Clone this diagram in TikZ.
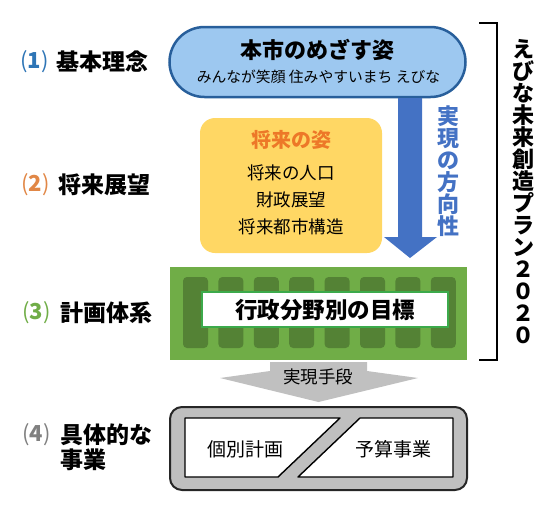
\documentclass[tikz,border=0pt]{standalone}
\usepackage{fontspec}
\setmainfont{Noto Sans CJK JP}
\definecolor{pillfill}{RGB}{157,200,240}
\definecolor{pilldraw}{RGB}{40,95,155}
\definecolor{bluearr}{RGB}{68,114,196}
\definecolor{yellowbox}{RGB}{255,215,100}
\definecolor{orangetxt}{RGB}{237,120,40}
\definecolor{greenbox}{RGB}{112,173,71}
\definecolor{greencol}{RGB}{84,130,53}
\definecolor{greenline}{RGB}{60,170,75}
\definecolor{grayarr}{RGB}{192,192,192}
\definecolor{grayouter}{RGB}{191,191,191}
\definecolor{cone}{RGB}{46,117,182}
\definecolor{ctwo}{RGB}{225,135,70}
\definecolor{cthree}{RGB}{112,173,71}
\definecolor{cfour}{RGB}{128,128,128}
\newcommand{\fsz}[1]{\fontsize{#1}{#1}\selectfont}
\begin{document}
\begin{tikzpicture}[x=1pt,y=-1pt,
  lab/.style={anchor=west,inner sep=0pt,font=\fsz{23}\bfseries},
  num/.style={anchor=east,inner sep=0pt,font=\fsz{22}},
  txt/.style={inner sep=0pt},
  colbox/.style={fill=greencol,rounded corners=4pt},
  polybox/.style={fill=white,draw=black,line width=1.4pt,line join=round}]
\useasboundingbox (0,0) rectangle (560,520);

% (1) vision pill
\node[draw=pilldraw,fill=pillfill,line width=2.5pt,rounded corners=35pt,
      minimum width=296pt,minimum height=70pt] (vision) at (317.5,62) {};
\node[txt,font=\fsz{22}\bfseries] (visionT) at (317.5,50) {本市のめざす姿};
\node[txt,font=\fsz{14.8}] (visionS) at (318.5,77) {みんなが笑顔 住みやすいまち えびな};

% blue arrow
\fill[bluearr] (398,98) -- (422,98) -- (422,237) -- (437,237) -- (410,258)
  -- (384,237) -- (398,237) -- cycle;
\node[txt,font=\fsz{22}\bfseries,text=bluearr,align=center] (dir) at (448,171)
  {\baselineskip=22.5pt 実\\現\\の\\方\\向\\性};

% (2) future box
\node[fill=yellowbox,rounded corners=15pt,minimum width=182pt,minimum height=135pt]
  (future) at (291,185.5) {};
\node[txt,font=\fsz{20}\bfseries,text=orangetxt] (futT) at (291,140) {将来の姿};
\node[txt,font=\fsz{17.5}] (fut1) at (291,173) {将来の人口};
\node[txt,font=\fsz{17.5}] (fut2) at (291,200) {財政展望};
\node[txt,font=\fsz{17.5}] (fut3) at (291,227) {将来都市構造};

% (3) plan green box
\node[fill=greenbox,minimum width=297pt,minimum height=93pt] (plan) at (318.5,313.5) {};
\foreach \i in {0,...,7}{
  \fill[colbox] ({183+\i*35.4},277) rectangle ({208+\i*35.4},348);
}
\node[fill=white,draw=greenline,line width=1.5pt,minimum width=246pt,minimum height=35pt]
  (goal) at (325,309.5) {};
\node[txt,font=\fsz{22.5}\bfseries] (goalT) at (325,310) {行政分野別の目標};

% gray arrow
\fill[grayarr] (270,362) -- (367,362) -- (367,371) -- (418,378) -- (318.5,402)
  -- (220,378) -- (270,371) -- cycle;
\node[txt,font=\fsz{17.5}] (means) at (318,377) {実現手段};

% (4) implementation box
\node[fill=grayouter,draw=black!85,line width=2pt,rounded corners=12pt,
      minimum width=297pt,minimum height=83pt] (impl) at (318.5,448.5) {};
\draw[polybox] (185,418) -- (340,418) -- (278,477) -- (185,477) -- cycle;
\draw[polybox] (360,418) -- (453,418) -- (453,477) -- (298,477) -- cycle;
\node[txt,font=\fsz{19}] (indiv) at (245,449) {個別計画};
\node[txt,font=\fsz{19}] (budget) at (393,449) {予算事業};

% bracket and title
\draw[line width=1.2pt] (479,23) -- (497,23) -- (497,360) -- (479,360);
\node[txt,font=\fsz{22}\bfseries,align=center] (title) at (523,192)
  {\baselineskip=22.8pt え\\び\\な\\未\\来\\創\\造\\プ\\ラ\\ン\\２\\０\\２\\０};

% left labels
\node[num,text=cone] (n1) at (49,62) {(\textbf{1})};
\node[lab] (l1) at (56,62) {基本理念};
\node[num,text=ctwo] (n2) at (50,185) {(\textbf{2})};
\node[lab] (l2) at (58,185) {将来展望};
\node[num,text=cthree] (n3) at (51,313) {(\textbf{3})};
\node[lab] (l3) at (60,313) {計画体系};
\node[num,text=cfour] (n4) at (51,435) {(\textbf{4})};
\node[lab] (l4a) at (60,435) {具体的な};
\node[lab] (l4b) at (60,460) {事業};
\end{tikzpicture}
\end{document}
